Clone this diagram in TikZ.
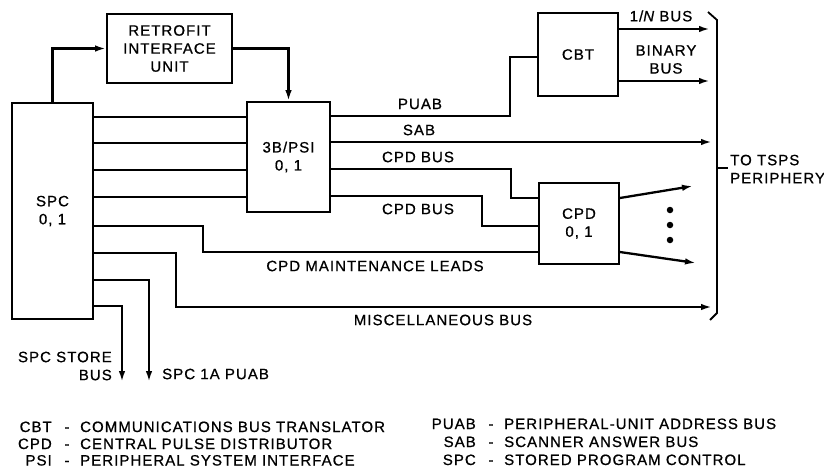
\documentclass[tikz,border=0pt]{standalone}
\usepackage{fontspec}
\newfontfamily\lblfont{Liberation Sans}[LetterSpace=7,FakeBold=0.8]
\usetikzlibrary{arrows.meta,calc}
\begin{document}
\begin{tikzpicture}[x=1pt,y=-1pt,
  font=\lblfont\fontsize{15}{18}\selectfont,
  box/.style={draw,line width=1.8pt,inner sep=0pt,align=center},
  bus/.style={line width=2.3pt},
  arr/.style={bus,-{Latex[length=11pt,width=6.5pt]}},
  lbl/.style={inner sep=0pt,align=center},
  dot/.style={circle,fill,inner sep=0pt,minimum size=6.5pt}]
\useasboundingbox (0,0) rectangle (824,469);

% boxes
\node[box,minimum width=81pt,minimum height=216pt] (spc) at (52.5,211) {SPC\\0, 1};
\node[box,minimum width=125pt,minimum height=69pt] (riu) at (169.5,48.5) {RETROFIT\\INTERFACE\\UNIT};
\node[box,minimum width=83pt,minimum height=110pt] (psi) at (288.5,157) {3B/PSI\\0, 1};
\node[box,minimum width=80pt,minimum height=83pt] (cbt) at (578,54.5) {CBT};
\node[box,minimum width=80pt,minimum height=81pt] (cpd) at (579,223.5) {CPD\\0, 1};

% free ends
\coordinate (miscend) at (712,307);
\coordinate (puab1a) at (149,382);
\coordinate (store) at (122,382);
\coordinate (sabend) at (712,142);
\coordinate (nbusend) at (710,29);
\coordinate (binend) at (710,81);
\coordinate (cpdo1) at (693,186);
\coordinate (cpdo2) at (696,263);

% SPC <-> retrofit <-> PSI
\draw[arr] (spc.north) |- (riu.west);
\draw[arr] (riu.east) -| (psi.north);

% SPC to PSI
\foreach \y in {117,143,170,197}
  \draw[bus] (spc.east |- 0,\y) -- (psi.west |- 0,\y);

% SPC other leads
\draw[bus] (spc.east |- 0,226) -| (203,252) -- (cpd.west |- 0,252);
\draw[arr] (spc.east |- 0,253) -| (176,307) -- (miscend);
\draw[arr] (spc.east |- 0,280) -| (puab1a);
\draw[arr] (spc.east |- 0,306) -| (store);

% PSI outputs
\draw[bus] (psi.east |- 0,116) -| (510,57) -- (cbt.west |- 0,57);
\draw[arr] (psi.east |- 0,142) -- (sabend);
\draw[bus] (psi.east |- 0,169) -| (511,198) -- (cpd.west |- 0,198);
\draw[bus] (psi.east |- 0,196) -| (482,226) -- (cpd.west |- 0,226);

% CBT outputs
\draw[arr] (cbt.east |- 0,29) -- (nbusend);
\draw[arr] (cbt.east |- 0,81) -- (binend);

% CPD outputs
\draw[arr] (cpd.east |- 0,198) -- (cpdo1);
\draw[arr] (cpd.east |- 0,252) -- (cpdo2);
\node[dot] (d1) at (670,210) {};
\node[dot] (d2) at (670,225) {};
\node[dot] (d3) at (670,240) {};

% brace
\draw[line width=1.8pt] (708,12) -- (717,20) -- (717,313) -- (710,320);
\draw[line width=1.8pt] (717,168) -- (728,168);
\node[lbl,anchor=west,align=left] (tsps) at (730,169) {TO TSPS\\PERIPHERY};

% bus labels
\node[lbl] (lpuab) at (420,104) {PUAB};
\node[lbl] (lsab) at (419,130) {SAB};
\node[lbl] (lcpd1) at (418,157) {CPD BUS};
\node[lbl] (lcpd2) at (418,209) {CPD BUS};
\node[lbl] (lmaint) at (375,266) {CPD MAINTENANCE LEADS};
\node[lbl] (lmisc) at (443,320) {MISCELLANEOUS BUS};
\node[lbl] (lnbus) at (661,16) {1/{\itshape N} BUS};
\node[lbl] (lbin) at (666,59.5) {BINARY\\BUS};
\node[lbl,anchor=east,align=right] (lstore) at (112,366) {SPC STORE\\BUS};
\node[lbl,anchor=west] (l1a) at (162,374) {SPC 1A PUAB};

% legend left
\node[lbl,anchor=base east] (a1) at (52,432) {CBT};
\node[lbl,anchor=base] (s1) at (67,432) {-};
\node[lbl,anchor=base west] (t1) at (80,432) {COMMUNICATIONS BUS TRANSLATOR};
\node[lbl,anchor=base east] (a2) at (52,449) {CPD};
\node[lbl,anchor=base] (s2) at (67,449) {-};
\node[lbl,anchor=base west] (t2) at (80,449) {CENTRAL PULSE DISTRIBUTOR};
\node[lbl,anchor=base east] (a3) at (52,465.5) {PSI};
\node[lbl,anchor=base] (s3) at (67,465.5) {-};
\node[lbl,anchor=base west] (t3) at (80,465.5) {PERIPHERAL SYSTEM INTERFACE};

% legend right
\node[lbl,anchor=base east] (b1) at (476,429) {PUAB};
\node[lbl,anchor=base] (r1) at (491,429) {-};
\node[lbl,anchor=base west] (u1) at (504,429) {PERIPHERAL-UNIT ADDRESS BUS};
\node[lbl,anchor=base east] (b2) at (476,447) {SAB};
\node[lbl,anchor=base] (r2) at (491,447) {-};
\node[lbl,anchor=base west] (u2) at (504,447) {SCANNER ANSWER BUS};
\node[lbl,anchor=base east] (b3) at (476,465) {SPC};
\node[lbl,anchor=base] (r3) at (491,465) {-};
\node[lbl,anchor=base west] (u3) at (504,465) {STORED PROGRAM CONTROL};
\end{tikzpicture}
\end{document}
